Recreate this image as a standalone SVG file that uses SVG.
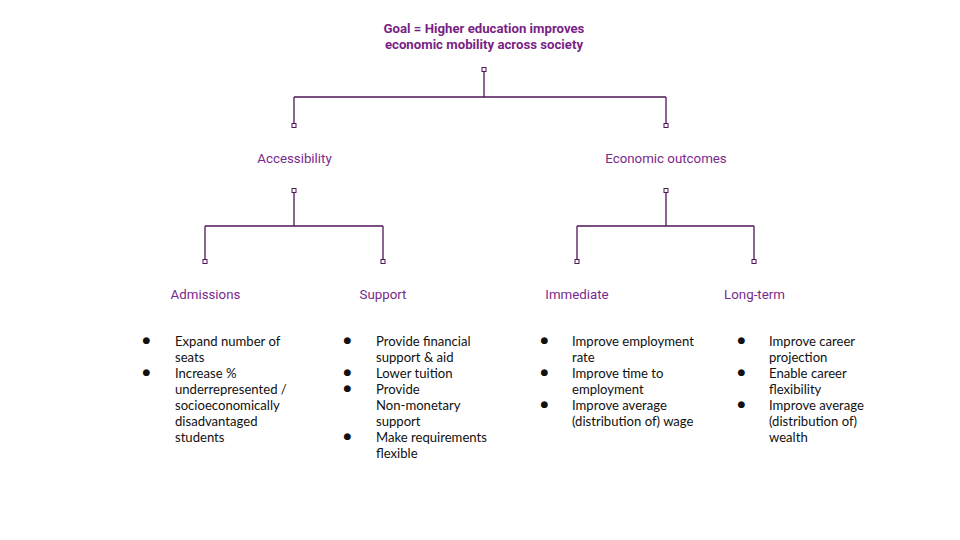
<svg xmlns="http://www.w3.org/2000/svg" width="960" height="540" viewBox="0 0 960 540">
<style>
.title{font-family:Roboto,"Liberation Sans",sans-serif;font-weight:bold;font-size:13.2px;fill:#7a1f86;text-anchor:middle}
.lbl{font-family:Roboto,"Liberation Sans",sans-serif;font-size:13.3px;fill:#7a2a8c;text-anchor:middle}
.bul{font-family:Lato,"Liberation Sans",sans-serif;font-size:13.1px;fill:#111}
.dot{font-family:"DejaVu Sans",sans-serif;font-size:9px;fill:#111}
.ln{fill:none;stroke:#4e1656;stroke-width:1.3}
.sq{fill:#fff;stroke:#4e1656;stroke-width:1}
</style>
<rect width="960" height="540" fill="#fff"/>
<g id="connectors">
<path class="ln" d="M484 72V97M294 97H666M294 97V123M666 97V123"/>
<path class="ln" d="M294 193V226M205 226H383M205 226V259M383 226V259"/>
<path class="ln" d="M666 193V226M577 226H754M577 226V259M754 226V259"/>
<rect class="sq" x="482" y="67.5" width="4" height="4"/>
<rect class="sq" x="292" y="123.5" width="4" height="4"/>
<rect class="sq" x="664" y="123.5" width="4" height="4"/>
<rect class="sq" x="292" y="188.5" width="4" height="4"/>
<rect class="sq" x="664" y="188.5" width="4" height="4"/>
<rect class="sq" x="203" y="259.5" width="4" height="4"/>
<rect class="sq" x="381" y="259.5" width="4" height="4"/>
<rect class="sq" x="575" y="259.5" width="4" height="4"/>
<rect class="sq" x="752" y="259.5" width="4" height="4"/>
</g>
<g id="goal">
<text class="title" x="484" y="33">Goal = Higher education improves</text>
<text class="title" x="484" y="49">economic mobility across society</text>
</g>
<g id="accessibility"><text class="lbl" x="294.5" y="163">Accessibility</text></g>
<g id="economic-outcomes"><text class="lbl" x="666" y="163">Economic outcomes</text></g>
<g id="admissions"><text class="lbl" x="205.5" y="299">Admissions</text></g>
<g id="support"><text class="lbl" x="383" y="299">Support</text></g>
<g id="immediate"><text class="lbl" x="577" y="299">Immediate</text></g>
<g id="long-term"><text class="lbl" x="754.5" y="299">Long-term</text></g>
<g id="admissions-list">
<text class="dot" x="142.5" y="342.5">●</text>
<text class="dot" x="142.5" y="374.5">●</text>
<text class="bul" x="175" y="346"><tspan x="175">Expand number of</tspan><tspan x="175" dy="16">seats</tspan><tspan x="175" dy="16">Increase %</tspan><tspan x="175" dy="16">underrepresented /</tspan><tspan x="175" dy="16">socioeconomically</tspan><tspan x="175" dy="16">disadvantaged</tspan><tspan x="175" dy="16">students</tspan></text>
</g>
<g id="support-list">
<text class="dot" x="343.5" y="342.5">●</text>
<text class="dot" x="343.5" y="374.5">●</text>
<text class="dot" x="343.5" y="390.5">●</text>
<text class="dot" x="343.5" y="438.5">●</text>
<text class="bul" x="376" y="346"><tspan x="376">Provide financial</tspan><tspan x="376" dy="16">support &amp; aid</tspan><tspan x="376" dy="16">Lower tuition</tspan><tspan x="376" dy="16">Provide</tspan><tspan x="376" dy="16">Non-monetary</tspan><tspan x="376" dy="16">support</tspan><tspan x="376" dy="16">Make requirements</tspan><tspan x="376" dy="16">flexible</tspan></text>
</g>
<g id="immediate-list">
<text class="dot" x="540.5" y="342.5">●</text>
<text class="dot" x="540.5" y="374.5">●</text>
<text class="dot" x="540.5" y="406.5">●</text>
<text class="bul" x="572" y="346"><tspan x="572">Improve employment</tspan><tspan x="572" dy="16">rate</tspan><tspan x="572" dy="16">Improve time to</tspan><tspan x="572" dy="16">employment</tspan><tspan x="572" dy="16">Improve average</tspan><tspan x="572" dy="16">(distribution of) wage</tspan></text>
</g>
<g id="long-term-list">
<text class="dot" x="737.5" y="342.5">●</text>
<text class="dot" x="737.5" y="374.5">●</text>
<text class="dot" x="737.5" y="406.5">●</text>
<text class="bul" x="769" y="346"><tspan x="769">Improve career</tspan><tspan x="769" dy="16">projection</tspan><tspan x="769" dy="16">Enable career</tspan><tspan x="769" dy="16">flexibility</tspan><tspan x="769" dy="16">Improve average</tspan><tspan x="769" dy="16">(distribution of)</tspan><tspan x="769" dy="16">wealth</tspan></text>
</g>
</svg>
